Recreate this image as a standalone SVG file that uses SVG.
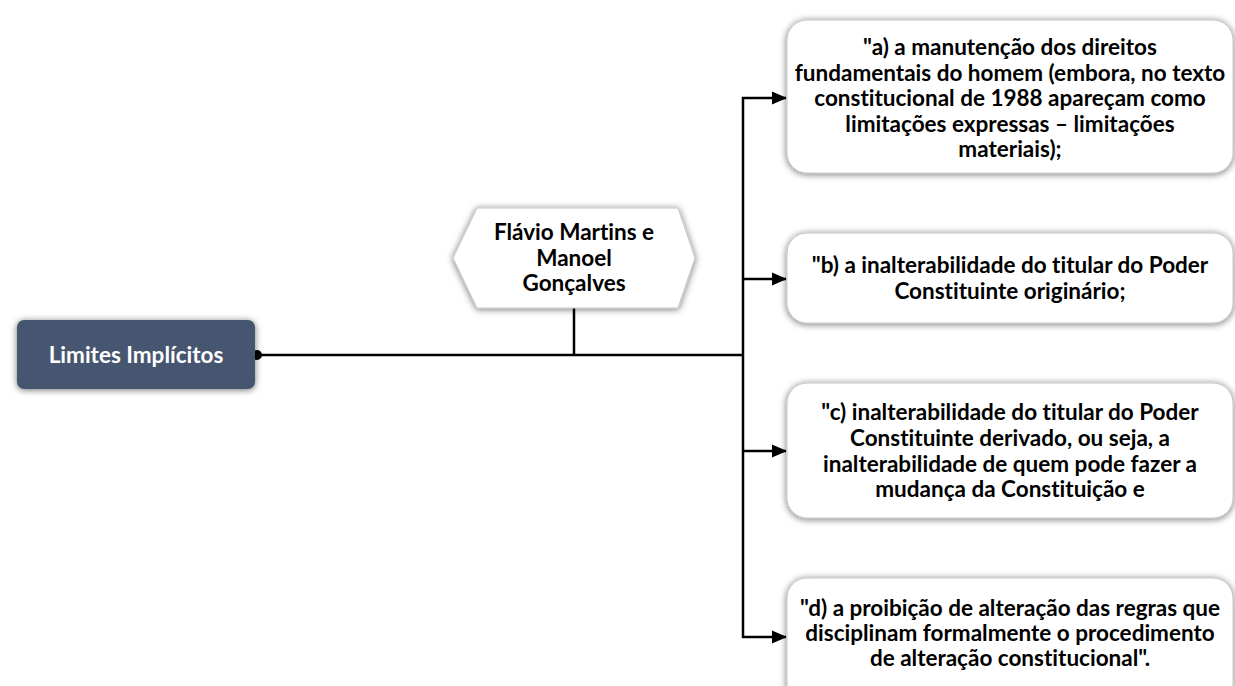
<svg xmlns="http://www.w3.org/2000/svg" width="1235" height="686" viewBox="0 0 1235 686">
<defs>
<filter id="sh" x="-10%" y="-20%" width="120%" height="140%">
<feDropShadow dx="0" dy="1" stdDeviation="3.5" flood-color="#000" flood-opacity="0.55"/>
</filter>
<marker id="arr" markerWidth="15" markerHeight="14" refX="14" refY="7" orient="auto" markerUnits="userSpaceOnUse">
<path d="M0,0.5 L15,7 L0,13.5 Z" fill="#000"/>
</marker>
</defs>
<style>
.box{fill:#fff;stroke:#c4c4c4;stroke-width:1;filter:url(#sh)}
.t{font-family:Lato,"Liberation Sans",sans-serif;font-weight:bold;font-size:22.5px;fill:#000;text-anchor:middle;font-variant-ligatures:none}
.w{fill:#fff}
.c{fill:none;stroke:#000;stroke-width:2.5}
</style>
<g id="connectors">
<line class="c" x1="257" y1="355" x2="744" y2="355"/>
<line class="c" x1="574" y1="308" x2="574" y2="355"/>
<line class="c" x1="743" y1="97" x2="743" y2="638"/>
<line class="c" x1="742" y1="98" x2="786" y2="98" marker-end="url(#arr)"/>
<line class="c" x1="742" y1="279" x2="786" y2="279" marker-end="url(#arr)"/>
<line class="c" x1="742" y1="451" x2="786" y2="451" marker-end="url(#arr)"/>
<line class="c" x1="742" y1="637" x2="786" y2="637" marker-end="url(#arr)"/>
<circle cx="257" cy="355" r="5" fill="#000"/>
</g>
<g id="root">
<rect x="17" y="320" width="238" height="69" rx="7" fill="#465670" filter="url(#sh)"/>
<text class="t w" x="136" y="363">Limites Implícitos</text>
</g>
<g id="author">
<polygon class="box" points="453,258 477,208 678,208 695,258 678,308 477,308"/>
<text class="t" x="574" y="240">Flávio Martins e</text>
<text class="t" x="574" y="266">Manoel</text>
<text class="t" x="574" y="291">Gonçalves</text>
</g>
<g id="a">
<rect class="box" x="787" y="20" width="446" height="153" rx="20"/>
<text class="t" x="1010" y="55">"a) a manutenção dos direitos</text>
<text class="t" x="1010" y="81">fundamentais do homem (embora, no texto</text>
<text class="t" x="1010" y="106">constitucional de 1988 apareçam como</text>
<text class="t" x="1010" y="132">limitações expressas – limitações</text>
<text class="t" x="1010" y="157">materiais);</text>
</g>
<g id="b">
<rect class="box" x="787" y="233" width="446" height="90" rx="20"/>
<text class="t" x="1010" y="273">"b) a inalterabilidade do titular do Poder</text>
<text class="t" x="1010" y="299">Constituinte originário;</text>
</g>
<g id="c">
<rect class="box" x="787" y="383" width="446" height="135" rx="20"/>
<text class="t" x="1010" y="420">"c) inalterabilidade do titular do Poder</text>
<text class="t" x="1010" y="446">Constituinte derivado, ou seja, a</text>
<text class="t" x="1010" y="472">inalterabilidade de quem pode fazer a</text>
<text class="t" x="1010" y="497">mudança da Constituição e</text>
</g>
<g id="d">
<rect class="box" x="787" y="578" width="446" height="130" rx="20"/>
<text class="t" x="1010" y="616">"d) a proibição de alteração das regras que</text>
<text class="t" x="1010" y="641">disciplinam formalmente o procedimento</text>
<text class="t" x="1010" y="666">de alteração constitucional".</text>
</g>
</svg>
